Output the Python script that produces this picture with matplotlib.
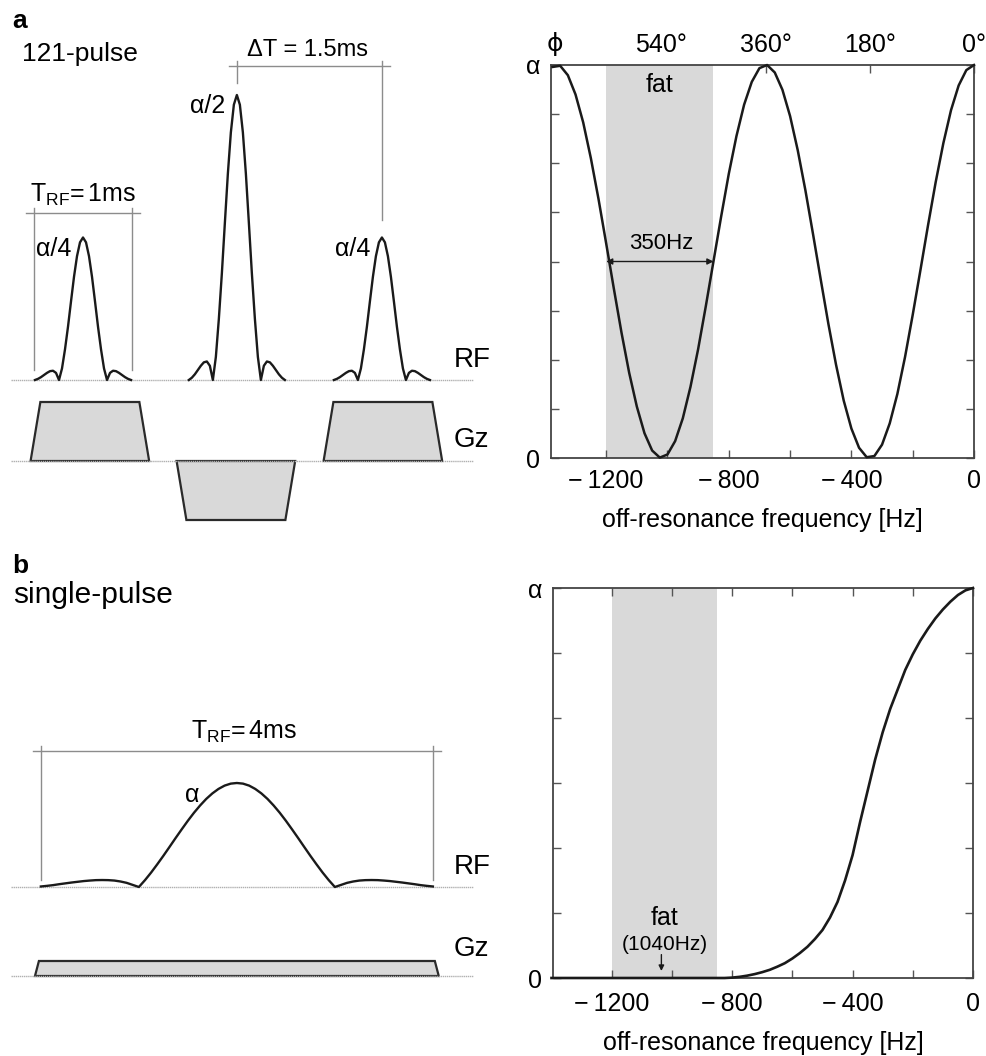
import numpy as np
import matplotlib
matplotlib.use('Agg')
import matplotlib.pyplot as plt
from matplotlib.patches import Polygon

plt.rcParams['font.family'] = ['Liberation Sans', 'DejaVu Sans']
plt.rcParams['mathtext.fontset'] = 'custom'
plt.rcParams['mathtext.rm'] = 'Liberation Sans'
plt.rcParams['mathtext.it'] = 'Liberation Sans:italic'

# ---- frequency responses ----
freq_121 = np.arange(-1375, 1, 25)          # Hz, 25 Hz grid
resp_121 = [0.995, 0.998, 0.974, 0.925, 0.854, 0.763, 0.659, 0.546, 0.431, 0.319,
            0.217, 0.131, 0.063, 0.019, 0.001, 0.009,
            0.043, 0.101, 0.181, 0.277, 0.386, 0.500, 0.614, 0.723, 0.819, 0.899,
            0.957, 0.992,
            1.000, 0.981, 0.937, 0.870, 0.783, 0.681, 0.569, 0.454, 0.341, 0.237,
            0.146, 0.075,
            0.026, 0.002, 0.005, 0.034, 0.088, 0.163, 0.257, 0.364, 0.477, 0.592,
            0.702, 0.801,
            0.885, 0.948, 0.987, 1.000]

freq_single = np.arange(-1400, 1, 25)
resp_single = [0.0] * 23 + [
    0.000, 0.001, 0.003, 0.006, 0.010, 0.015, 0.021, 0.029, 0.038, 0.050,
    0.064, 0.080, 0.100, 0.123, 0.155, 0.195, 0.250, 0.315, 0.400, 0.480,
    0.560, 0.630, 0.690, 0.740, 0.790, 0.830, 0.865, 0.895, 0.922, 0.945,
    0.965, 0.982, 0.994, 1.000]

fat_band = (-1200, -850)        # Hz
fat_freq = -1040
phi_ticks = [-1020, -680, -340, 0]
phi_labels = ['540°', '360°', '180°', '0°']

# ---- RF pulse shapes (normalised, u in lobe units) ----
rf_u_121 = np.arange(-2, 2.001, 0.125)
half_121 = [0, 0.008, 0.02, 0.035, 0.05, 0.062, 0.065, 0.05, 0,
            0.081, 0.215, 0.374, 0.551, 0.724, 0.869, 0.966, 1.0]
rf_shape_121 = half_121 + half_121[-2::-1]

rf_u_single = np.arange(-2, 2.001, 0.0625)
half_single = [0.005, 0.011, 0.018, 0.027, 0.035, 0.043, 0.05, 0.057, 0.062, 0.066,
               0.067, 0.066, 0.062, 0.053, 0.04, 0.02, 0,
               0.066, 0.139, 0.218, 0.300, 0.385, 0.471, 0.555, 0.637, 0.714,
               0.784, 0.847, 0.900, 0.943, 0.975, 0.994, 1.0]
rf_shape_single = half_single + half_single[-2::-1]

# 121 sequence (ms)
pulse_centers = [0.0, 1.57, 3.05]
pulse_amps = [0.25, 0.5, 0.25]
pulse_labels = ['α/4', 'α/2', 'α/4']
gz_centers = [0.07, 1.56, 3.06]
gz_amps = [0.59, -0.59, 0.59]
# single pulse (ms)
single_center = 1.57
single_gz_amp = 0.15

W, H = 987, 1056
fig = plt.figure(figsize=(W / 100, H / 100), dpi=100)
LINE = '#1a1a1a'
GREY = '#8c8c8c'
FILL = '#d9d9d9'
FS = 18


def trapezoid(ax, c, amp, flat, ramp, base):
    pts = [(c - flat - ramp, base), (c - flat, base + amp),
           (c + flat, base + amp), (c + flat + ramp, base)]
    ax.add_patch(Polygon(pts, closed=True, facecolor=FILL, edgecolor='#2a2a2a', lw=1.6))


def bracket(ax, x0, x1, y, ylo0, ylo1, ext=0.08, up=0.05):
    ax.plot([x0 - ext, x1 + ext], [y, y], color=GREY, lw=1)
    ax.plot([x0, x0], [ylo0, y + up], color=GREY, lw=1)
    ax.plot([x1, x1], [ylo1, y + up], color=GREY, lw=1)


# ================= panel a, left =================
ax = fig.add_axes([0, 1 - 540 / H, 500 / W, 540 / H])
ax.set_xlim(-0.847, 4.255)
ax.set_ylim(-1.60, 3.80)
ax.axis('off')
rf_base, gz_base = 0.0, -0.81
ax.plot([-0.735, 3.98], [rf_base, rf_base], color='#b0b0b0', lw=1, ls=(0, (1, 0.5)))
ax.plot([-0.735, 3.98], [gz_base, gz_base], color='#b0b0b0', lw=1, ls=(0, (1, 0.5)))
for c, a, lab in zip(pulse_centers, pulse_amps, pulse_labels):
    ax.plot(c + rf_u_121 * 0.245, rf_base + a * 5.7 * np.array(rf_shape_121), color=LINE, lw=1.7)
    ax.text(c - 0.12, rf_base + a * 5.7 - 0.11, lab, fontsize=FS, ha='right', va='center')
for c, a in zip(gz_centers, gz_amps):
    trapezoid(ax, c, a, 0.505, 0.10, gz_base)
bracket(ax, pulse_centers[0] - 0.5, pulse_centers[0] + 0.5, 1.67, 0.10, 0.10)
ax.text(pulse_centers[0], 1.85, r'T$_{\mathrm{RF}}$=$\,$1ms', fontsize=FS, ha='center', va='center')
bracket(ax, pulse_centers[1], pulse_centers[2], 3.14, 2.97, 1.60)
ax.text(2.29, 3.30, 'ΔT = 1.5ms', fontsize=17, ha='center', va='center')
ax.text(3.78, 0.20, 'RF', fontsize=20, ha='left', va='center')
ax.text(3.78, -0.60, 'Gz', fontsize=20, ha='left', va='center')

fig.text(12 / W, 1 - 28 / H, 'a', fontsize=19, fontweight='bold', va='baseline')
fig.text(22 / W, 1 - 61 / H, '121-pulse', fontsize=19, va='baseline')

# ================= panel b, left =================
ax = fig.add_axes([0, 0, 500 / W, 516 / H])
ax.set_xlim(-0.847, 4.255)
ax.set_ylim(-1.69, 3.47)
ax.axis('off')
rf_base, gz_base = 0.0, -0.89
ax.plot([-0.735, 3.98], [rf_base, rf_base], color='#b0b0b0', lw=1, ls=(0, (1, 0.5)))
ax.plot([-0.735, 3.98], [gz_base, gz_base], color='#b0b0b0', lw=1, ls=(0, (1, 0.5)))
ax.plot(single_center + rf_u_single * 1.0, rf_base + 1.04 * np.array(rf_shape_single),
        color=LINE, lw=1.7)
ax.text(single_center - 0.38, 0.92, 'α', fontsize=FS, ha='right', va='center')
trapezoid(ax, single_center, single_gz_amp, 2.02, 0.04, gz_base)
bracket(ax, single_center - 2.0, single_center + 2.0, 1.36, 0.07, 0.07)
ax.text(single_center + 0.07, 1.55, r'T$_{\mathrm{RF}}$=$\,$4ms', fontsize=FS, ha='center', va='center')
ax.text(3.78, 0.20, 'RF', fontsize=20, ha='left', va='center')
ax.text(3.78, -0.62, 'Gz', fontsize=20, ha='left', va='center')

fig.text(12 / W, 1 - 573 / H, 'b', fontsize=19, fontweight='bold', va='baseline')
fig.text(13 / W, 1 - 603 / H, 'single-pulse', fontsize=21.5, va='baseline')


# ================= right panels =================
def style_axis(ax, xmin, yminor, top_ticks, pad):
    ax.set_xlim(xmin, 0)
    ax.set_ylim(0, 1)
    ax.set_xticks([-1200, -800, -400, 0])
    ax.set_xticklabels(['\u2212\u20091200', '\u2212\u2009800', '\u2212\u2009400', '0'])
    ax.set_xticks([-1000, -600, -200], minor=True)
    ax.set_yticks([0, 1])
    ax.set_yticklabels(['0', 'α'])
    ax.set_yticks(yminor, minor=True)
    for w in ('major', 'minor'):
        ax.tick_params(which=w, direction='in', length=6, width=1, color='#555555',
                       top=top_ticks, right=True, labelsize=FS)
    ax.tick_params(axis='x', which='major', pad=pad)
    ax.tick_params(axis='y', which='major', pad=8)
    for s in ax.spines.values():
        s.set_color('#444444')
        s.set_linewidth(1.3)
    ax.set_xlabel('off-resonance frequency [Hz]', fontsize=FS, labelpad=11)


ax1 = fig.add_axes([551 / W, 1 - 458 / H, 423 / W, 393 / H])
ax1.axvspan(*fat_band, color=FILL, lw=0)
ax1.plot(freq_121, resp_121, color=LINE, lw=1.8, clip_on=False, zorder=3)
style_axis(ax1, -1380, np.arange(1, 8) / 8, False, 8)
sec = ax1.secondary_xaxis('top')
sec.set_xticks(phi_ticks)
sec.set_xticklabels(phi_labels)
sec.tick_params(direction='in', length=6, width=1, color='#555555', labelsize=FS, pad=6)
sec.spines['top'].set_visible(False)
ax1.text(0.01, 1.053, 'ϕ', transform=ax1.transAxes, fontsize=FS, ha='center',
         va='center', family=['DejaVu Sans'])
ax1.text(np.mean(fat_band), 0.95, 'fat', fontsize=FS, ha='center', va='center')
ax1.annotate('', xy=(fat_band[0], 0.5), xytext=(fat_band[1], 0.5),
             arrowprops=dict(arrowstyle='<|-|>', color=LINE, lw=1, mutation_scale=9,
                             shrinkA=0, shrinkB=0))
ax1.text(np.mean(fat_band) + 5, 0.545, '350Hz', fontsize=16, ha='center', va='center')

ax2 = fig.add_axes([553 / W, 1 - 978 / H, 420 / W, 390 / H])
ax2.axvspan(*fat_band, color=FILL, lw=0)
ax2.plot(freq_single, resp_single, color=LINE, lw=1.9, clip_on=False, zorder=3)
style_axis(ax2, -1395, np.arange(1, 6) / 6, True, 10)
ax2.text(np.mean(fat_band), 0.154, 'fat', fontsize=FS, ha='center', va='center')
ax2.text(np.mean(fat_band), 0.085, '(1040Hz)', fontsize=15, ha='center', va='center')
ax2.annotate('', xy=(fat_freq + 5, 0.018), xytext=(fat_freq + 5, 0.06),
             arrowprops=dict(arrowstyle='-|>', color=LINE, lw=1, mutation_scale=8,
                             shrinkA=0, shrinkB=0))

fig.savefig('out.png', dpi=100, facecolor='white')
